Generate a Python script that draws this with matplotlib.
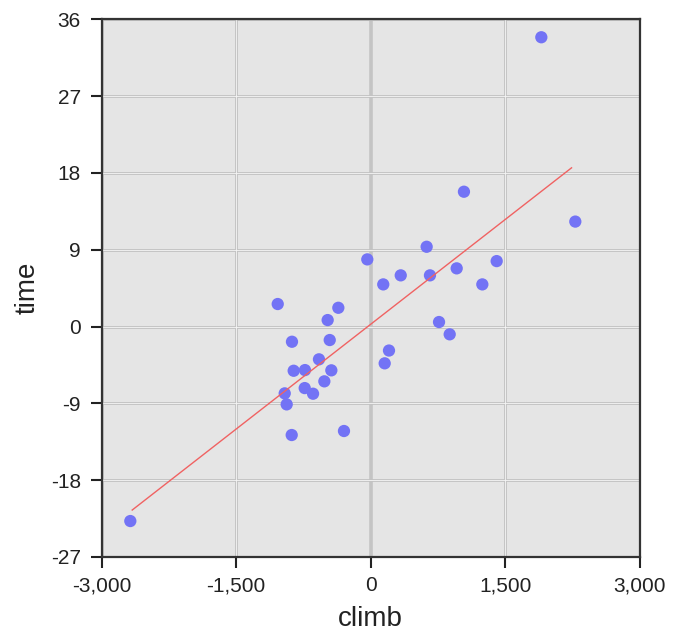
import matplotlib
matplotlib.use("Agg")
import matplotlib.pyplot as plt
from matplotlib.ticker import FuncFormatter

climb = [1903, 2282, 1040, 624, -38, 335, 661, 959, 1405, 140, 1245,
         -1037, -361, -480, 762, 881, -878, -457, 204, 156, -577, -859,
         -733, -439, -517, -736, -643, -959, -937, -881, -298, -2681]
time = [33.9, 12.3, 15.8, 9.35, 7.87, 6.0, 6.0, 6.82, 7.67, 4.94, 4.94,
        2.64, 2.20, 0.76, 0.53, -0.91, -1.78, -1.58, -2.81, -4.31, -3.84,
        -5.18, -5.10, -5.13, -6.42, -7.21, -7.87, -7.83, -9.12, -12.71,
        -12.24, -22.79]

fit_x = [-2660, 2240]
fit_y = [-21.5, 18.6]

x_ticks = [-3000, -1500, 0, 1500, 3000]
y_ticks = [-27, -18, -9, 0, 9, 18, 27, 36]

plt.rcParams['font.family'] = ['Liberation Sans', 'DejaVu Sans']

fig = plt.figure(figsize=(6.79, 6.34), dpi=100)
ax = fig.add_axes([0.1498, 0.1215, 0.7923, 0.848])
ax.set_facecolor('#e5e5e5')

for xv in x_ticks:
    if xv == 0:
        ax.axvline(xv, color='#c4c4c4', lw=2.6, zorder=1)
    else:
        ax.axvline(xv, color='#c2c2c2', lw=2.0, zorder=1)
        ax.axvline(xv, color='#f6f6f6', lw=0.6, zorder=1.1)
for yv in y_ticks:
    ax.axhline(yv, color='#c2c2c2', lw=2.0, zorder=1)
    ax.axhline(yv, color='#f6f6f6', lw=0.6, zorder=1.1)

ax.scatter(climb, time, s=78, color='#7373f5', edgecolors='none', zorder=3)
ax.plot(fit_x, fit_y, color='#f06262', lw=1.0, zorder=4)

ax.set_xlim(-3000, 3000)
ax.set_ylim(-27, 36)
ax.set_xticks(x_ticks)
ax.set_yticks(y_ticks)
ax.xaxis.set_major_formatter(FuncFormatter(lambda v, p: f"{int(v):,}"))
ax.yaxis.set_major_formatter(FuncFormatter(lambda v, p: f"{int(v)}"))
ax.tick_params(axis='both', length=8, width=1.5, color='#222222',
               labelsize=15, labelcolor='#222222')
ax.tick_params(axis='x', pad=6)
ax.tick_params(axis='y', pad=7)

for sp in ax.spines.values():
    sp.set_color('#333333')
    sp.set_linewidth(1.6)

ax.set_xlabel('climb', fontsize=20, color='#222222')
ax.set_ylabel('time', fontsize=20, color='#222222')
ax.xaxis.set_label_coords(0.5, -0.092)
ax.yaxis.set_label_coords(-0.114, 0.5)

fig.savefig('out.png', dpi=100)
